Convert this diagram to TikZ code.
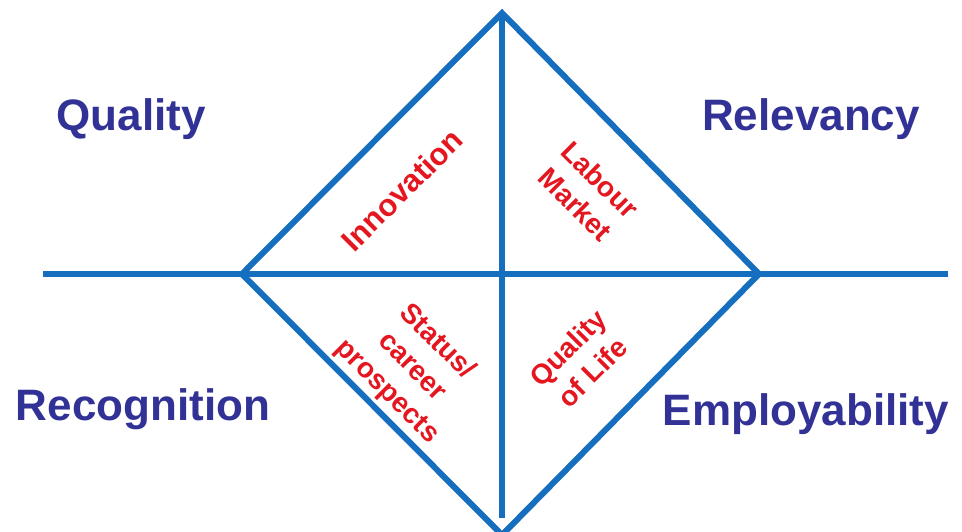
\documentclass[tikz,border=0pt]{standalone}
\usepackage{fontspec}
\setmainfont{Liberation Sans}
\definecolor{axisblue}{RGB}{22,110,190}
\definecolor{headblue}{RGB}{50,50,150}
\definecolor{labelred}{RGB}{228,22,32}
\begin{document}
\begin{tikzpicture}[x=1pt,y=-1pt,
  axis/.style={draw=axisblue,line width=6pt},
  heading/.style={text=headblue,font=\fontsize{44}{52}\selectfont\bfseries,inner sep=0pt},
  facet/.style={text=labelred,font=\fontsize{28}{35}\selectfont\bfseries,align=center,inner sep=0pt}]
\useasboundingbox (0,0) rectangle (962,531);
\clip (0,0) rectangle (962,531);
% corner points of the diamond and the axis ends
\coordinate (top) at (502,13);
\coordinate (left) at (242,274);
\coordinate (right) at (759,274);
\coordinate (bottom) at (502,535);
\coordinate (hl) at (43,274);
\coordinate (hr) at (948,274);
\coordinate (vb) at (502,518);
% axes
\draw[axis] (hl) -- (hr);
\draw[axis] (top) -- (vb);
% diamond
\draw[axis,line join=miter] (bottom) -- (left) -- (top) -- (right) -- (bottom);
% outer headings
\node[heading] (quality) at (131,119) {Quality};
\node[heading] (relevancy) at (811,119) {Relevancy};
\node[heading] (recognition) at (143,409) {Recognition};
\node[heading] (employ) at (806,414) {Employability};
% inner facets
\node[facet,font=\fontsize{31}{37}\selectfont\bfseries,rotate=45] (innov) at (402,190) {Innovation};
\node[facet,rotate=-45] (labour) at (588,192) {Labour\\Market};
\node[facet,rotate=-45] (status) at (412,367) {Status/\\career\\prospects};
\node[facet,rotate=45] (qol) at (580,360) {Quality\\of Life};
\end{tikzpicture}
\end{document}
